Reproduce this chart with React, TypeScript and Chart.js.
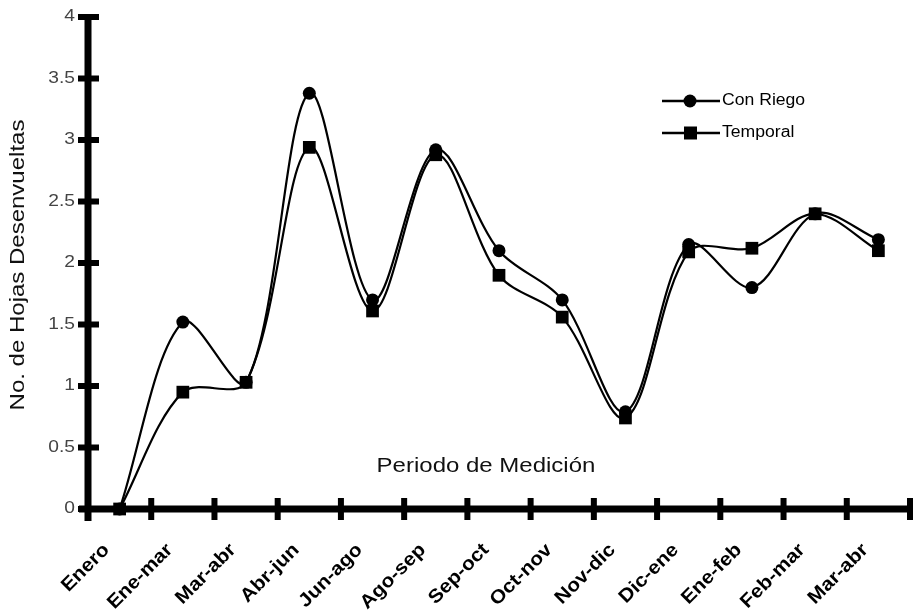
import React, { useEffect, useRef } from "react";
import { Chart, registerables } from "chart.js";

Chart.register(...registerables);

// Measurement periods (category axis)
const periods = [
  "Enero",
  "Ene-mar",
  "Mar-abr",
  "Abr-jun",
  "Jun-ago",
  "Ago-sep",
  "Sep-oct",
  "Oct-nov",
  "Nov-dic",
  "Dic-ene",
  "Ene-feb",
  "Feb-mar",
  "Mar-abr",
];

// Unfolded leaves per period
const conRiego = [0, 1.52, 1.03, 3.38, 1.7, 2.92, 2.1, 1.7, 0.79, 2.15, 1.8, 2.4, 2.19];
const temporal = [0, 0.95, 1.03, 2.94, 1.61, 2.88, 1.9, 1.56, 0.74, 2.09, 2.12, 2.4, 2.1];

const yTicks = [0, 0.5, 1, 1.5, 2, 2.5, 3, 3.5, 4];
const yTickLabels = ["0", "0.5", "1", "1.5", "2", "2.5", "3", "3.5", "4"];
const seriesNames = ["Con Riego", "Temporal"];
const xTitle = "Periodo de Medición";
const yTitle = "No. de Hojas Desenvueltas";

const FONT = '"Liberation Sans", Arial, sans-serif';

function wideText(
  ctx: CanvasRenderingContext2D,
  text: string,
  x: number,
  y: number,
  font: string,
  color: string,
  align: CanvasTextAlign,
  angle = 0,
  stretch = 1.2
) {
  ctx.save();
  ctx.translate(x, y);
  if (angle) ctx.rotate(angle);
  ctx.scale(stretch, 1);
  ctx.font = `${font} ${FONT}`;
  ctx.fillStyle = color;
  ctx.textAlign = align;
  ctx.textBaseline = "middle";
  ctx.fillText(text, 0, 0);
  ctx.restore();
}

const axesPlugin = {
  id: "heavyAxes",
  beforeDatasetsDraw(chart: any) {
    const { ctx, chartArea: area } = chart;
    const xs = chart.scales.x;
    const ys = chart.scales.y;
    const y0 = ys.getPixelForValue(0);
    const yTop = ys.getPixelForValue(yTicks[yTicks.length - 1]);
    ctx.save();
    ctx.fillStyle = "#000";
    // vertical axis
    ctx.fillRect(area.left - 3.5, yTop - 3, 7, y0 + 12 - (yTop - 3));
    // crossing tick marks on the value axis
    yTicks.forEach((v) => {
      const py = ys.getPixelForValue(v);
      ctx.fillRect(area.left - 10, py - 3, 21, 6);
    });
    // horizontal axis
    ctx.fillRect(area.left - 9, y0 - 3.5, area.right - area.left + 9, 7);
    // tick marks at category boundaries
    const half = (xs.getPixelForValue(1) - xs.getPixelForValue(0)) / 2;
    for (let i = 0; i <= periods.length; i++) {
      const bx =
        xs.getPixelForValue(Math.min(i, periods.length - 1)) + (i === periods.length ? half : -half);
      ctx.fillRect(bx - 3, y0 - 11, 6, 22);
    }
    ctx.restore();
  },
  afterDraw(chart: any) {
    const { ctx, chartArea: area } = chart;
    const xs = chart.scales.x;
    const ys = chart.scales.y;
    const y0 = ys.getPixelForValue(0);

    // value axis labels
    yTicks.forEach((v, i) => {
      wideText(ctx, yTickLabels[i], area.left - 13, ys.getPixelForValue(v), "16px", "#444", "right", 0, 1.2);
    });

    // period labels, slanted
    periods.forEach((p, i) => {
      const px = xs.getPixelForValue(i);
      wideText(ctx, p, px - 13, y0 + 38, "bold 19px", "#000", "right", -Math.PI / 4, 1.1);
    });

    // axis titles
    wideText(ctx, xTitle, (area.left + area.right) / 2 - 13, y0 - 43, "20px", "#111", "center", 0, 1.2);
    wideText(ctx, yTitle, 18, (area.top + y0) / 2 + 2, "20px", "#111", "center", -Math.PI / 2, 1.2);

    // legend
    const lx = 662;
    const rows = [101, 133];
    ctx.save();
    ctx.strokeStyle = "#000";
    ctx.fillStyle = "#000";
    ctx.lineWidth = 2.5;
    rows.forEach((ry, i) => {
      ctx.beginPath();
      ctx.moveTo(lx, ry);
      ctx.lineTo(lx + 58, ry);
      ctx.stroke();
      if (i === 0) {
        ctx.beginPath();
        ctx.arc(lx + 28, ry, 6.5, 0, Math.PI * 2);
        ctx.fill();
      } else {
        ctx.fillRect(lx + 22, ry - 6.5, 13, 13);
      }
    });
    ctx.restore();
    rows.forEach((ry, i) => {
      wideText(ctx, seriesNames[i], lx + 60, ry, "16px", "#000", "left", 0, 1.1);
    });
  },
};

export default function App() {
  const canvasRef = useRef<HTMLCanvasElement | null>(null);

  useEffect(() => {
    if (!canvasRef.current) return;
    const chart = new Chart(canvasRef.current, {
      type: "line",
      data: {
        labels: periods,
        datasets: [
          {
            label: seriesNames[0],
            data: conRiego,
            borderColor: "#000",
            backgroundColor: "#000",
            borderWidth: 2.2,
            pointStyle: "circle",
            pointRadius: 6.5,
            pointBorderWidth: 0,
            pointBackgroundColor: "#000",
            tension: 0.33,
            fill: false,
            clip: false,
            order: 1,
          },
          {
            label: seriesNames[1],
            data: temporal,
            borderColor: "#000",
            backgroundColor: "#000",
            borderWidth: 2.2,
            pointStyle: "rect",
            pointRadius: 9,
            pointBorderWidth: 0,
            pointBackgroundColor: "#000",
            tension: 0.33,
            fill: false,
            clip: false,
            order: 0,
          },
        ],
      },
      options: {
        animation: false,
        responsive: false,
        layout: { padding: { left: 88, top: 17, right: 0, bottom: 107 } },
        plugins: {
          legend: { display: false },
          tooltip: { enabled: false },
        },
        scales: {
          x: { type: "category", display: false, offset: true },
          y: { display: false, min: 0, max: 4 },
        },
      },
      plugins: [axesPlugin],
    });
    return () => chart.destroy();
  }, []);

  return (
    <div style={{ position: "fixed", left: 0, top: 0, width: 919, height: 616, background: "#fff" }}>
      <canvas ref={canvasRef} width={919} height={616} style={{ display: "block" }} />
    </div>
  );
}
